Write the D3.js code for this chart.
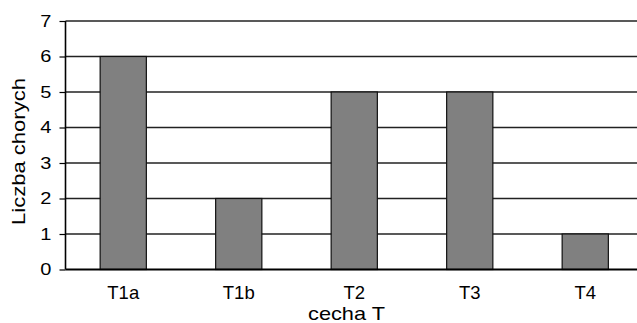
<!DOCTYPE html>
<html><head><meta charset="utf-8">
<script src="https://cdn.jsdelivr.net/npm/d3@7"></script>
<style>body{margin:0;background:#fff}svg{display:block}text{font-family:"Liberation Sans",Arial,sans-serif;fill:#000}</style>
</head><body><svg id="c" width="637" height="323"></svg>
<script>
const categories = ["T1a","T1b","T2","T3","T4"];
const values = [6,2,5,5,1];
const yTicks = [0,1,2,3,4,5,6,7];
const xTitle = "cecha T";
const yTitle = "Liczba chorych";

const svg = d3.select("#c");
const pL = 65.5, pR = 643, pT = 21, pB = 269.5;
const x = d3.scaleBand().domain(categories).range([pL, pR]).paddingInner(0.6).paddingOuter(0.3);
const y = d3.scaleLinear().domain([0,7]).range([pB, pT]);

// gridlines
svg.append("g").selectAll("line").data(yTicks.filter(d=>d>0)).join("line")
  .attr("x1", pL).attr("x2", 637).attr("y1", d=>y(d)).attr("y2", d=>y(d))
  .attr("stroke", "#222").attr("stroke-width", 1.3);

// bars
svg.append("g").selectAll("rect").data(values).join("rect")
  .attr("x", (d,i)=>x(categories[i])).attr("width", x.bandwidth())
  .attr("y", d=>y(d)).attr("height", d=>pB - y(d))
  .attr("fill", "#808080").attr("stroke", "#111").attr("stroke-width", 1.2);

// y axis
const ya = svg.append("g").attr("transform", `translate(${pL},0)`)
  .call(d3.axisLeft(y).tickValues(yTicks).tickSize(6).tickPadding(7).tickFormat(d3.format("d")));
ya.select(".domain").attr("stroke", "#000").attr("stroke-width", 1.6).attr("d", `M0,${pT}V${pB}`);
ya.selectAll(".tick line").attr("stroke", "#000").attr("stroke-width", 1.2);
ya.selectAll(".tick text").attr("font-size", 16).attr("x", 0)
  .attr("transform", "translate(-14,0) scale(1.25,1)");

// x axis baseline
const xa = svg.append("g").attr("transform", `translate(0,${pB})`)
  .call(d3.axisBottom(x).tickSize(0).tickPadding(16));
xa.select(".domain").attr("stroke", "#000").attr("stroke-width", 2).attr("d", `M${pL},0H637`);
xa.selectAll(".tick text").attr("font-size", 18.5);

// titles
svg.append("text").attr("x", 346.5).attr("y", 319.5).attr("text-anchor","middle")
  .attr("font-size", 19).attr("textLength", 77).attr("lengthAdjust", "spacingAndGlyphs").text(xTitle);
svg.append("text").attr("transform", `translate(24.5,151.5) rotate(-90)`).attr("text-anchor","middle")
  .attr("font-size", 18.5).attr("textLength", 147).attr("lengthAdjust", "spacingAndGlyphs").text(yTitle);
</script></body></html>
